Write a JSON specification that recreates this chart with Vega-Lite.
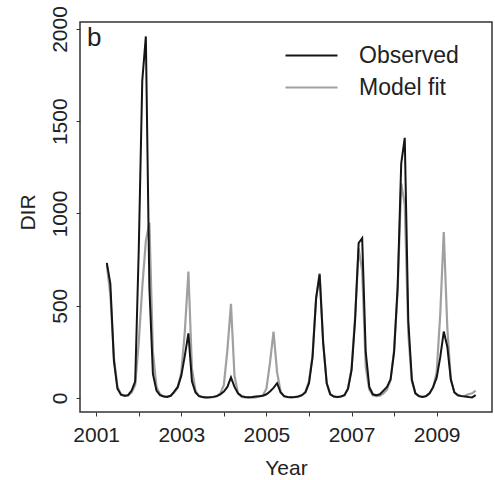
{
"$schema": "https://vega.github.io/schema/vega-lite/v6.json",
"width": 412, "height": 390,
"autosize": {"type": "none"},
"padding": {"left": 80, "top": 22, "right": 3, "bottom": 68},
"background": "white",
"config": {
  "font": "Liberation Sans",
  "view": {"stroke": "#333", "strokeWidth": 1.5},
  "axis": {"grid": false, "domain": false, "tickColor": "#333", "tickSize": 4, "labelColor": "#222", "titleColor": "#222", "labelFontSize": 21, "titleFontSize": 21, "titleFontWeight": "normal", "labelFontWeight": "normal"}
},
"title": {"text": "b", "anchor": "start", "frame": "group", "fontSize": 26, "fontWeight": "normal", "color": "#222", "baseline": "alphabetic", "offset": 0, "dx": 7, "dy": 66},
"data": {"values": [
{"t":2001.25,"obs":732,"fit":720},{"t":2001.333,"obs":620,"fit":560},{"t":2001.417,"obs":200,"fit":220},{"t":2001.5,"obs":50,"fit":60},{"t":2001.583,"obs":18,"fit":20},{"t":2001.667,"obs":12,"fit":12},{"t":2001.75,"obs":15,"fit":15},{"t":2001.833,"obs":40,"fit":30},{"t":2001.917,"obs":90,"fit":70},
{"t":2002,"obs":800,"fit":300},{"t":2002.083,"obs":1720,"fit":600},{"t":2002.167,"obs":1960,"fit":850},{"t":2002.25,"obs":600,"fit":950},{"t":2002.333,"obs":130,"fit":250},{"t":2002.417,"obs":40,"fit":60},{"t":2002.5,"obs":15,"fit":20},{"t":2002.583,"obs":8,"fit":10},{"t":2002.667,"obs":6,"fit":8},{"t":2002.75,"obs":12,"fit":12},{"t":2002.833,"obs":35,"fit":30},{"t":2002.917,"obs":60,"fit":55},
{"t":2003,"obs":120,"fit":140},{"t":2003.083,"obs":230,"fit":360},{"t":2003.167,"obs":350,"fit":685},{"t":2003.25,"obs":90,"fit":160},{"t":2003.333,"obs":30,"fit":40},{"t":2003.417,"obs":10,"fit":10},{"t":2003.5,"obs":5,"fit":5},{"t":2003.583,"obs":3,"fit":3},{"t":2003.667,"obs":4,"fit":3},{"t":2003.75,"obs":6,"fit":5},{"t":2003.833,"obs":10,"fit":10},{"t":2003.917,"obs":20,"fit":25},
{"t":2004,"obs":35,"fit":70},{"t":2004.083,"obs":60,"fit":260},{"t":2004.167,"obs":112,"fit":510},{"t":2004.25,"obs":60,"fit":120},{"t":2004.333,"obs":25,"fit":25},{"t":2004.417,"obs":10,"fit":6},{"t":2004.5,"obs":5,"fit":3},{"t":2004.583,"obs":4,"fit":2},{"t":2004.667,"obs":5,"fit":2},{"t":2004.75,"obs":8,"fit":3},{"t":2004.833,"obs":10,"fit":8},{"t":2004.917,"obs":12,"fit":15},
{"t":2005,"obs":20,"fit":50},{"t":2005.083,"obs":35,"fit":190},{"t":2005.167,"obs":55,"fit":360},{"t":2005.25,"obs":80,"fit":140},{"t":2005.333,"obs":30,"fit":35},{"t":2005.417,"obs":10,"fit":8},{"t":2005.5,"obs":5,"fit":4},{"t":2005.583,"obs":4,"fit":3},{"t":2005.667,"obs":5,"fit":4},{"t":2005.75,"obs":8,"fit":8},{"t":2005.833,"obs":15,"fit":15},{"t":2005.917,"obs":30,"fit":35},
{"t":2006,"obs":80,"fit":90},{"t":2006.083,"obs":220,"fit":230},{"t":2006.167,"obs":540,"fit":540},{"t":2006.25,"obs":670,"fit":676},{"t":2006.333,"obs":300,"fit":300},{"t":2006.417,"obs":80,"fit":80},{"t":2006.5,"obs":20,"fit":20},{"t":2006.583,"obs":8,"fit":8},{"t":2006.667,"obs":5,"fit":5},{"t":2006.75,"obs":8,"fit":8},{"t":2006.833,"obs":15,"fit":15},{"t":2006.917,"obs":50,"fit":50},
{"t":2007,"obs":150,"fit":160},{"t":2007.083,"obs":420,"fit":440},{"t":2007.167,"obs":840,"fit":810},{"t":2007.25,"obs":866,"fit":690},{"t":2007.333,"obs":250,"fit":170},{"t":2007.417,"obs":60,"fit":45},{"t":2007.5,"obs":20,"fit":15},{"t":2007.583,"obs":15,"fit":10},{"t":2007.667,"obs":20,"fit":12},{"t":2007.75,"obs":40,"fit":25},{"t":2007.833,"obs":60,"fit":45},{"t":2007.917,"obs":100,"fit":100},
{"t":2008,"obs":250,"fit":260},{"t":2008.083,"obs":600,"fit":580},{"t":2008.167,"obs":1270,"fit":1163},{"t":2008.25,"obs":1410,"fit":1050},{"t":2008.333,"obs":420,"fit":350},{"t":2008.417,"obs":100,"fit":90},{"t":2008.5,"obs":25,"fit":25},{"t":2008.583,"obs":10,"fit":10},{"t":2008.667,"obs":6,"fit":6},{"t":2008.75,"obs":10,"fit":10},{"t":2008.833,"obs":25,"fit":25},{"t":2008.917,"obs":60,"fit":55},
{"t":2009,"obs":110,"fit":140},{"t":2009.083,"obs":220,"fit":450},{"t":2009.167,"obs":360,"fit":900},{"t":2009.25,"obs":278,"fit":380},{"t":2009.333,"obs":100,"fit":100},{"t":2009.417,"obs":30,"fit":30},{"t":2009.5,"obs":15,"fit":15},{"t":2009.583,"obs":10,"fit":10},{"t":2009.667,"obs":8,"fit":12},{"t":2009.75,"obs":5,"fit":20},{"t":2009.833,"obs":3,"fit":25},{"t":2009.917,"obs":15,"fit":40}
]},
"encoding": {
  "x": {"field": "t", "type": "quantitative",
    "scale": {"domain": [2000.62, 2010.3], "nice": false, "zero": false},
    "axis": {"values": [2001,2002,2003,2004,2005,2006,2007,2008,2009], "format": "d", "labelExpr": "datum.value % 2 == 1 ? datum.label : ''", "labelFlush": false, "labelOverlap": false, "title": "Year", "labelPadding": 19, "labelBaseline": "middle", "titleY": 56, "titleBaseline": "middle"}
  }
},
"layer": [
  {"mark": {"type": "line", "strokeWidth": 2.2},
   "encoding": {
     "y": {"field": "fit", "type": "quantitative", "title": "DIR",
       "scale": {"domain": [-76, 2038], "nice": false, "zero": false},
       "axis": {"values": [0,500,1000,1500,2000], "format": "d", "labelAngle": -90, "labelAlign": "center", "labelBaseline": "middle", "labelPadding": 16, "labelOverlap": false, "title": "DIR", "titleX": -52, "titleY": 190, "titleAngle": -90, "titleBaseline": "middle", "titleAlign": "center"}},
     "color": {"datum": "Model fit", "type": "nominal",
       "scale": {"domain": ["Observed", "Model fit"], "range": ["#151515", "#a0a0a0"]},
       "legend": {"orient": "none", "legendX": 220, "legendY": 22, "title": null, "symbolType": "M-3,0H3", "symbolSize": 300, "symbolStrokeWidth": 2, "labelFontSize": 23, "labelColor": "#222", "labelOffset": 36, "rowPadding": 8, "padding": 0}}
   }},
  {"mark": {"type": "line", "strokeWidth": 2},
   "encoding": {
     "y": {"field": "obs", "type": "quantitative", "title": "DIR"},
     "color": {"datum": "Observed", "type": "nominal"}
   }}
]
}
